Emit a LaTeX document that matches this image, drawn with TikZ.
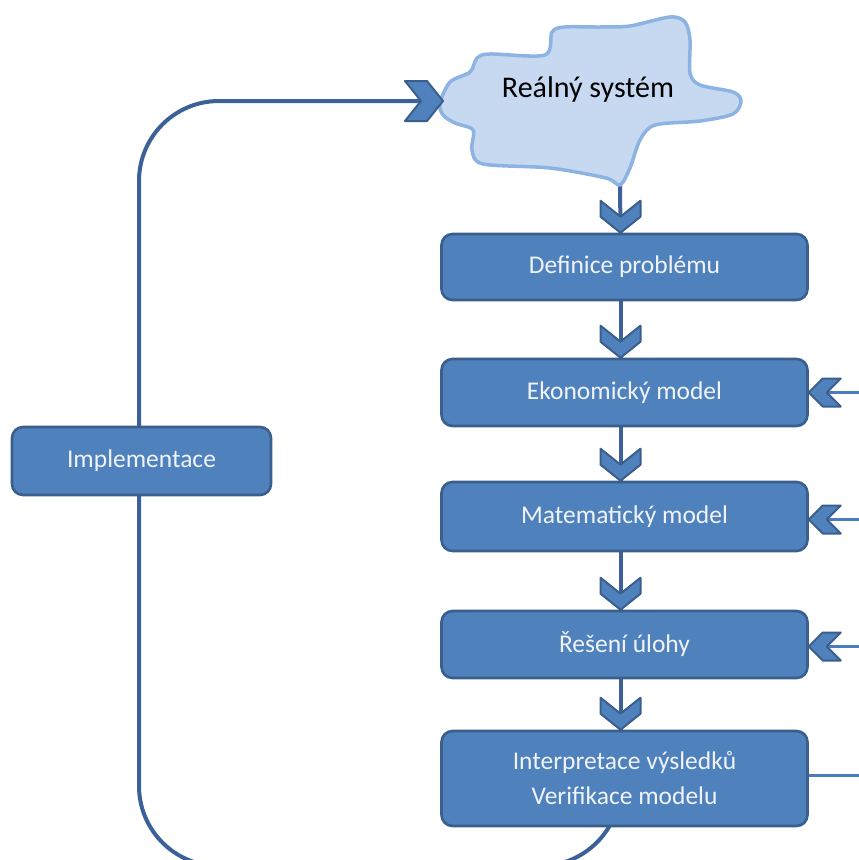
\documentclass[tikz,border=0pt]{standalone}
\usepackage{fontspec}
\setmainfont{Carlito}
\definecolor{boxfill}{HTML}{4F81BD}
\definecolor{boxline}{HTML}{3A5F8C}
\definecolor{boxtext}{HTML}{F0F4FA}
\definecolor{connc}{HTML}{3B6198}
\definecolor{sidec}{HTML}{4A7EBB}
\definecolor{cloudfill}{HTML}{C6D9F1}
\definecolor{cloudline}{HTML}{8DB3E2}
\pgfdeclarelayer{back}
\pgfdeclarelayer{bg}
\pgfsetlayers{back,bg,main}
\tikzset{
 box/.style={draw=boxline, fill=boxfill, line width=2.6pt, rounded corners=11pt, text=boxtext,
   font=\fontsize{25.5}{35}\selectfont, align=center, inner sep=0pt, minimum width=366pt},
 conn/.style={draw=connc, line width=4pt},
 side/.style={draw=sidec, line width=3pt},
 cloudsty/.style={fill=cloudfill, draw=cloudline, line width=3.5pt, line join=round},
 chevsty/.style={fill=boxfill, draw=boxline, line width=2pt, line join=round},
 chevD/.pic={\path[chevsty] (0,0) -- (20,-16) -- (20,-32) -- (0,-16) -- (-20,-32) -- (-20,-16) -- cycle;},
 chevR/.pic={\path[chevsty] (0,0) -- (-16,-20) -- (-38,-20) -- (-22,0) -- (-38,20) -- (-16,20) -- cycle;},
 chevL/.pic={\path[chevsty] (0,0) -- (14,-14) -- (32,-14) -- (18,0) -- (32,14) -- (14,14) -- cycle;},
}
\begin{document}
\begin{tikzpicture}[x=1pt,y=-1pt]
\begin{pgfonlayer}{back}
\fill[white] (0,0) rectangle (859,860);
\end{pgfonlayer}
\useasboundingbox (0,0) rectangle (859,860);

% cloud
\path[cloudsty] plot[smooth cycle, tension=0.5] coordinates {(440,103) (450,82) (470,72) (477,58) (490,54) (545,55) (552,32) (565,27) (600,27) (630,26) (670,17) (685,22) (690,40) (690,73) (700,85) (733,92) (741,101) (733,114) (700,121) (655,125) (640,140) (630,168) (620,185) (606,178) (550,168) (483,164) (472,150) (473,130) (455,123) (443,115)};
\node[font=\fontsize{30}{34}\selectfont, anchor=base, inner sep=0pt] (cloud) at (588,97) {Reálný systém};

% boxes
\node[box, minimum height=66pt] (def) at (624.5,267) {Definice problému};
\node[box, minimum height=67pt] (eko) at (624.5,392.5) {Ekonomický model};
\node[box, minimum height=69pt] (mat) at (624.5,516.5) {Matematický model};
\node[box, minimum height=67pt] (res) at (624.5,644.5) {Řešení úlohy};
\node[box, minimum height=95pt] (int) at (624.5,778.5) {Interpretace výsledků\\Verifikace modelu};
\node[box, minimum width=259pt, minimum height=68pt] (imp) at (141.5,461) {Implementace};

\coordinate (cloudL) at (443,101);
\coordinate (cloudB) at (620,184);
\coordinate (lbR) at (620,866);
\coordinate (lbL) at (139,866);
\coordinate (ltL) at (139,101);
\coordinate (redge) at (859,0);
\coordinate (i1) at ([xshift=-4pt]int.center);

% connectors behind
\begin{pgfonlayer}{bg}
\draw[conn, rounded corners=80pt] (i1) -- (lbR) -- (lbL) -- (ltL) -- (cloudL);
\draw[conn] (cloudB) -- ([xshift=-4pt]def.north);
\draw[conn] ([xshift=-4pt]def.south) -- ([xshift=-4pt]eko.north);
\draw[conn] ([xshift=-4pt]eko.south) -- ([xshift=-4pt]mat.north);
\draw[conn] ([xshift=-4pt]mat.south) -- ([xshift=-4pt]res.north);
\draw[conn] ([xshift=-4pt]res.south) -- ([xshift=-4pt]int.north);
\draw[side] (eko.east) -- (eko.east -| redge);
\draw[side] ([yshift=-3pt]mat.east) -- ([yshift=-3pt]mat.east -| redge);
\draw[side] ([yshift=-2pt]res.east) -- ([yshift=-2pt]res.east -| redge);
\draw[side] ([yshift=3.5pt]int.east) -- ([yshift=3.5pt]int.east -| redge);
\end{pgfonlayer}

% arrowheads
\pic at (cloudL) {chevR};
\pic at ([xshift=-4pt]def.north) {chevD};
\pic at ([xshift=-4pt]eko.north) {chevD};
\pic at ([xshift=-4pt]mat.north) {chevD};
\pic at ([xshift=-4pt]res.north) {chevD};
\pic at ([xshift=-4pt]int.north) {chevD};
\pic at (eko.east) {chevL};
\pic at ([yshift=-3pt]mat.east) {chevL};
\pic at ([yshift=-2pt]res.east) {chevL};
\end{tikzpicture}
\end{document}
